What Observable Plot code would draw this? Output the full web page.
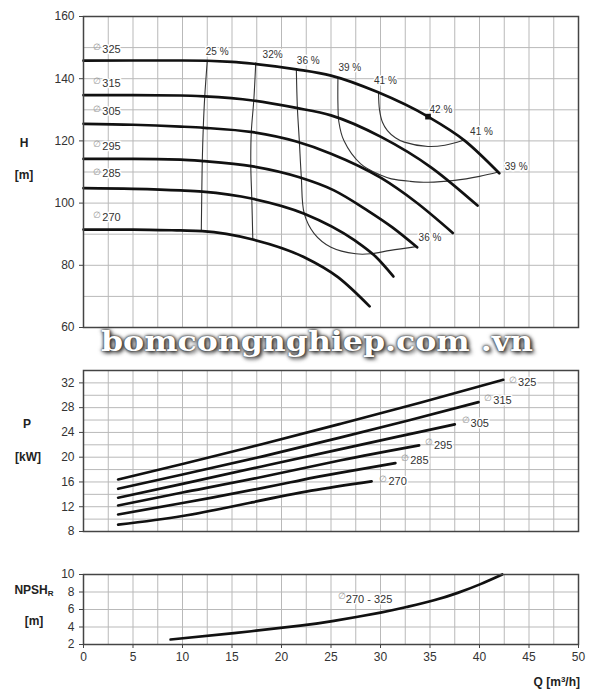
<!DOCTYPE html>
<html><head><meta charset="utf-8">
<script src="https://cdn.jsdelivr.net/npm/d3@7"></script>
<script src="https://cdn.jsdelivr.net/npm/@observablehq/plot@0.6"></script>
<style>
body{margin:0;background:#fff;}
#wrap{position:relative;width:600px;height:700px;font-family:"Liberation Sans",Arial,sans-serif;overflow:hidden;}
.panel{position:absolute;left:0;}
.lbl{position:absolute;font-weight:bold;font-size:12px;color:#222;white-space:nowrap;transform:translate(-50%,-50%);}
#wm{position:absolute;left:101px;top:325px;font-family:"DejaVu Serif",serif;font-weight:bold;font-size:28px;color:#fff;white-space:nowrap;transform-origin:0 0;
 text-shadow:0 0 2px #222,0 0 4px #444,2px 2px 4px #333;}
</style></head>
<body><div id="wrap"></div>
<script>
// ---------- data ----------
const diameters = ["325","315","305","295","285","270"];
// H curves (Q m3/h, H m)
const hQ325 = [0, 5, 10, 15, 17.2, 21.5, 25.0, 29.7, 34.8, 38.5, 42.0];
const hH325 = [145.8, 145.85, 145.85, 145.4, 144.8, 143.0, 141.0, 135.7, 127.8, 120.1, 109.6];
const hQ315 = [0, 5, 9.8, 12.2, 17.1, 21.5, 25.0, 30.1, 35.1, 39.8];
const hH315 = [134.7, 134.7, 134.6, 134.3, 133.0, 130.6, 128.2, 121.2, 111.5, 99.2];
const hQ305 = [0, 5, 9.8, 12.2, 17.1, 21.5, 25.0, 30.1, 33.5, 37.3];
const hH305 = [125.5, 125.2, 124.6, 124.2, 122.8, 119.8, 115.9, 108.0, 100.5, 90.4];
const hQ295 = [0, 5, 9.8, 12.2, 17.1, 21.8, 25.3, 28.7, 31.2, 33.7];
const hH295 = [114.2, 114.2, 114.0, 113.5, 111.8, 108.3, 104.1, 97.6, 92.2, 85.8];
const hQ285 = [0, 5, 9.8, 12.0, 17.1, 22.3, 27.4, 29.5, 31.3];
const hH285 = [104.8, 104.6, 104.1, 103.7, 101.4, 96.6, 88.0, 82.8, 76.4];
const hQ270 = [0, 5, 9.8, 12.0, 17.1, 22.3, 25.7, 28.9];
const hH270 = [91.5, 91.5, 91.2, 91.0, 88.3, 82.6, 76.2, 66.8];
const hLabelH = [149.4, 138.6, 129.6, 118.3, 109.4, 95.4];

// efficiency iso-lines
const effNames = ["25 %","32%","36 %","39 %","41 %"];
const e25Q = [12.5, 12.25, 12.1, 12.0, 11.95, 11.9];
const e25H = [145.6, 134.4, 124.4, 113.7, 103.8, 91.2];
const e32Q = [17.4, 17.2, 16.95, 16.9, 17.0, 17.1];
const e32H = [145.1, 133.0, 122.9, 111.9, 101.5, 88.5];
const e36Q = [21.5, 21.6, 21.8, 22.0, 22.3, 23.3, 25.0, 27.5, 29.0, 31.0, 33.6];
const e36H = [143.0, 131.0, 120.0, 108.5, 96.6, 90.2, 85.8, 83.7, 83.7, 84.8, 86.0];
const e39Q = [25.7, 25.7, 25.8, 26.3, 28.0, 30.0, 31.1, 33.0, 34.8, 37.5, 40.0, 41.9];
const e39H = [140.3, 132.0, 126.0, 120.1, 112.6, 109.0, 107.8, 107.0, 106.7, 107.3, 108.6, 110.0];
const e41Q = [29.8, 29.9, 30.2, 30.7, 31.5, 32.4, 34.8, 36.5, 38.3];
const e41H = [135.5, 130.0, 126.0, 123.3, 121.0, 119.6, 118.2, 118.6, 120.1];
const bepQ = 34.8, bepH = 127.8;
const effLabelText = ["25 %","32%","36 %","39 %","41 %","42 %","41 %","39 %","36 %"];
const effLabelQ = [13.5, 19.1, 22.7, 26.9, 30.5, 36.1, 40.2, 43.7, 35.0];
const effLabelH = [148.7, 147.8, 145.9, 143.4, 139.2, 130.0, 123.0, 111.8, 88.7];

// Power curves (Q, P kW)
const pQ325 = [3.5, 10, 18, 26, 34, 42.4];
const pP325 = [16.4, 18.9, 22.1, 25.4, 28.8, 32.5];
const pQ315 = [3.5, 10, 18, 26, 33, 39.9];
const pP315 = [14.9, 17.2, 20.1, 23.2, 26.0, 28.9];
const pQ305 = [3.5, 10, 18, 26, 32, 37.5];
const pP305 = [13.45, 15.7, 18.5, 21.3, 23.4, 25.3];
const pQ295 = [3.5, 10, 18, 26, 33.9];
const pP295 = [12.2, 14.3, 16.8, 19.5, 21.9];
const pQ285 = [3.5, 10, 18, 22, 26, 31.5];
const pP285 = [10.75, 12.6, 15.0, 16.3, 17.5, 19.05];
const pQ270 = [3.5, 10, 17, 23, 29.1];
const pP270 = [9.1, 10.5, 12.7, 14.6, 16.1];
const pLabelQ = [43.9, 41.4, 39.1, 35.4, 33.0, 30.8];
const pLabelP = [32.0, 29.1, 25.5, 21.9, 19.4, 16.0];

// NPSH
const nQ = [8.8, 15.2, 21.9, 25.3, 30.0, 32.7, 35.4, 37.8, 40.1, 42.3];
const nN = [2.57, 3.3, 4.15, 4.7, 5.65, 6.3, 7.05, 7.9, 8.9, 10.0];
const nLabel = "270 - 325";

// ticks
const xGrid = d3.range(0, 50.01, 2.5);
const xTicks = [0,5,10,15,20,25,30,35,40,45,50];
const hTicks = [60,80,100,120,140,160];
const hGrid = d3.range(60, 160.01, 10);
const pTicks = [8,12,16,20,24,28,32];
const pGrid = d3.range(8, 34.01, 2);
const nTicks = [2,4,6,8,10];

// ---------- build rows ----------
const hSets = [[hQ325,hH325],[hQ315,hH315],[hQ305,hH305],[hQ295,hH295],[hQ285,hH285],[hQ270,hH270]];
const hRows = hSets.flatMap(([qs,hs],i)=>qs.map((q,j)=>({d:diameters[i],Q:q,H:hs[j]})));
const eSets = [[e25Q,e25H],[e32Q,e32H],[e36Q,e36H],[e39Q,e39H],[e41Q,e41H]];
const eRows = eSets.flatMap(([qs,hs],i)=>qs.map((q,j)=>({e:effNames[i],Q:q,H:hs[j]})));
const effLabels = effLabelText.map((t,i)=>({t,Q:effLabelQ[i],H:effLabelH[i]}));
const hLabels = diameters.map((d,i)=>({d,Q:1.9,H:hLabelH[i]}));
const pSets = [[pQ325,pP325],[pQ315,pP315],[pQ305,pP305],[pQ295,pP295],[pQ285,pP285],[pQ270,pP270]];
const pRows = pSets.flatMap(([qs,ps],i)=>qs.map((q,j)=>({d:diameters[i],Q:q,P:ps[j]})));
const pLabels = diameters.map((d,i)=>({d,Q:pLabelQ[i],P:pLabelP[i]}));
const nRows = nQ.map((q,i)=>({Q:q,N:nN[i]}));

const FF = "Liberation Sans, Arial, sans-serif";
const gridStyle = {stroke:"#b9b9b9", strokeOpacity:1, strokeWidth:1};
const axisStyle = {tickSize:4, tickPadding:5, fontSize:12, fill:"#333", stroke:"#444", label:null};
const halo = {stroke:"white", strokeWidth:3, paintOrder:"stroke"};
const common = {width:600, marginLeft:83, marginRight:22,
  style:{fontFamily:FF, fontSize:"12px", color:"#333", background:"transparent", overflow:"visible"}};

const wrap = document.getElementById("wrap");
function place(svg, top){ svg.classList.add("panel"); svg.style.top = top+"px"; wrap.appendChild(svg); }

// ---------- Panel 1: H ----------
const p1 = Plot.plot({...common, height:335, marginTop:16, marginBottom:8,
  x:{domain:[0,50], axis:null}, y:{domain:[60,160], axis:null},
  marks:[
    Plot.gridX(xGrid, gridStyle),
    Plot.gridY(hGrid, gridStyle),
    Plot.axisY(hTicks, axisStyle),
    Plot.line(eRows, {x:"Q", y:"H", z:"e", curve:"catmull-rom", stroke:"#333", strokeWidth:1.1}),
    Plot.line(hRows, {x:"Q", y:"H", z:"d", curve:"monotone-x", stroke:"#111", strokeWidth:2.7}),
    Plot.dot([{Q:bepQ,H:bepH}], {x:"Q", y:"H", symbol:"square", r:3.2, fill:"#111"}),
    Plot.text(effLabels, {x:"Q", y:"H", text:"t", fontSize:10, fill:"#333", ...halo}),
    Plot.text(hLabels, {x:"Q", y:"H", text:"d", textAnchor:"start", fontSize:11, fill:"#333", ...halo}),
    Plot.text(hLabels, {x:"Q", y:"H", text:()=>"∅", textAnchor:"end", dx:-1, dy:-2, fontSize:9, fill:"#999"}),
    Plot.frame({stroke:"#444", strokeWidth:1.5})
  ]});
place(p1, 0);

// ---------- Panel 2: P ----------
const p2 = Plot.plot({...common, height:180, marginTop:10, marginBottom:9,
  x:{domain:[0,50], axis:null}, y:{domain:[8,34], axis:null},
  marks:[
    Plot.gridX(xGrid, gridStyle),
    Plot.gridY(pGrid, gridStyle),
    Plot.axisY(pTicks, axisStyle),
    Plot.line(pRows, {x:"Q", y:"P", z:"d", curve:"natural", stroke:"#111", strokeWidth:2.7}),
    Plot.text(pLabels, {x:"Q", y:"P", text:"d", textAnchor:"start", fontSize:11, fill:"#333", ...halo}),
    Plot.text(pLabels, {x:"Q", y:"P", text:()=>"∅", textAnchor:"end", dx:-1, dy:-3, fontSize:9, fill:"#999"}),
    Plot.frame({stroke:"#444", strokeWidth:1.5})
  ]});
place(p2, 360);

// ---------- Panel 3: NPSH ----------
const p3 = Plot.plot({...common, height:120, marginTop:14, marginBottom:36,
  x:{domain:[0,50], axis:null}, y:{domain:[2,10], axis:null},
  marks:[
    Plot.gridX(xGrid, gridStyle),
    Plot.gridY(nTicks, gridStyle),
    Plot.axisY(nTicks, axisStyle),
    Plot.axisX(xTicks, {...axisStyle, tickPadding:4}),
    Plot.line(nRows, {x:"Q", y:"N", curve:"natural", stroke:"#111", strokeWidth:2.7}),
    Plot.text([{Q:26.5,N:7.2}], {x:"Q", y:"N", text:()=>nLabel, textAnchor:"start", fontSize:11, fill:"#333", ...halo}),
    Plot.text([{Q:26.5,N:7.2}], {x:"Q", y:"N", text:()=>"∅", textAnchor:"end", dy:-3, fontSize:9, fill:"#999"}),
    Plot.frame({stroke:"#444", strokeWidth:1.5})
  ]});
place(p3, 560);

// ---------- titles ----------
function lbl(html, x, y){ const d=document.createElement("div"); d.className="lbl"; d.innerHTML=html; d.style.left=x+"px"; d.style.top=y+"px"; wrap.appendChild(d); return d; }
lbl("H", 24, 143);
lbl("[m]", 24, 175);
lbl("P", 27, 424);
lbl("[kW]", 28, 457);
lbl("NPSH<sub style='font-size:8px;vertical-align:-2px'>R</sub>", 34, 590);
lbl("[m]", 34, 621);
const q = lbl("Q [m<sup style='font-size:8px;vertical-align:4px'>3</sup>/h]", 0, 682);
q.style.transform="translate(-100%,-50%)"; q.style.left="580px";

// watermark
const wm = document.createElement("div"); wm.id="wm"; wm.textContent="bomcongnghiep.com .vn"; wrap.appendChild(wm);
const w = wm.getBoundingClientRect().width;
wm.style.transform = `scaleX(${432 / w})`;
</script>
</body></html>
